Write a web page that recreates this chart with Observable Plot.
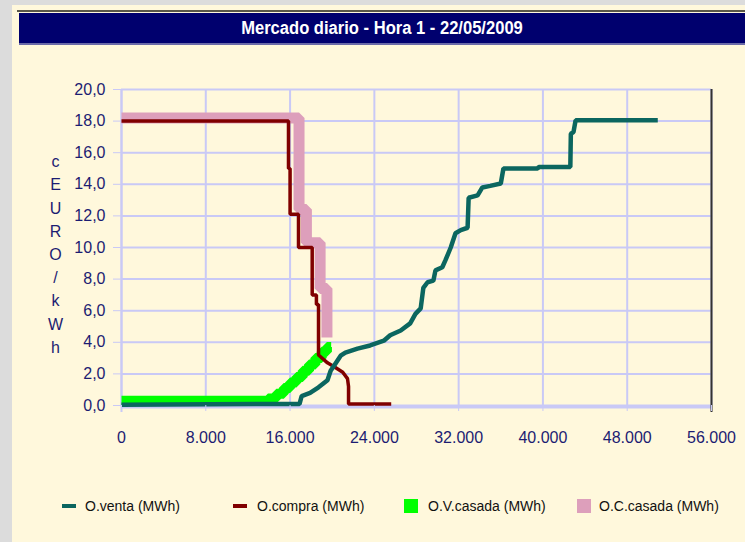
<!DOCTYPE html>
<html><head><meta charset="utf-8">
<script src="https://cdn.jsdelivr.net/npm/d3@7"></script>
<script src="https://cdn.jsdelivr.net/npm/@observablehq/plot@0.6"></script>
<style>
html,body{margin:0;padding:0;}
body{width:745px;height:542px;background:#dcdcdc;position:relative;overflow:hidden;font-family:"Liberation Sans",Arial,sans-serif;}
#panel{position:absolute;left:12px;top:5px;right:0;bottom:0;background:#fff8dc;}
#topline{position:absolute;left:17px;top:10px;right:0;height:2px;background:#5a5848;}
#title{position:absolute;left:19px;top:13px;right:0;height:30px;background:#00006e;border-bottom:2px solid #6a6aa8;}
#title span{position:absolute;left:0;right:0;top:0;text-align:center;color:#fff;font:bold 18px "Liberation Sans",Arial,sans-serif;line-height:31px;transform:scaleX(0.92);transform-origin:center;}
#chart{position:absolute;left:0;top:50px;}
#legend{position:absolute;top:497px;left:0;width:745px;height:18px;}
.sw{position:absolute;}
.lb{position:absolute;top:0;font:14px "Liberation Sans",Arial,sans-serif;color:#111;white-space:nowrap;line-height:18px;}
</style>
</head><body>
<div id="panel"></div>
<div id="topline"></div>
<div id="title"><span id="titletext"></span></div>
<div id="chart"></div>
<div id="legend"></div>
<script>
const titleText = "Mercado diario - Hora 1 - 22/05/2009";
const yTitle = "cEURO/kWh";
const xTicks = [0, 8000, 16000, 24000, 32000, 40000, 48000, 56000];
const yTicks = [0, 2, 4, 6, 8, 10, 12, 14, 16, 18, 20];

const seriesNames = ["O.venta (MWh)", "O.compra (MWh)", "O.V.casada (MWh)", "O.C.casada (MWh)"];
const seriesColors = ["#0b665f", "#800000", "#00ff00", "#dd9fbb"];

// O.venta (sell curve)
const venta = [[0,0.05],[16900,0.1],[17100,0.6],[17900,0.8],[18700,1.15],[19550,1.6],[19850,2.2],[20300,2.65],[20800,3.15],[21250,3.35],[22400,3.6],[23600,3.8],[24900,4.1],[25500,4.45],[26500,4.75],[27400,5.2],[27900,5.8],[28400,6.15],[28650,7.45],[29050,7.8],[29600,7.9],[29800,8.55],[30450,8.75],[30750,9.2],[31250,10.0],[31700,10.9],[32200,11.1],[32850,11.25],[32950,13.15],[33800,13.3],[34250,13.8],[35000,13.9],[36000,14.05],[36250,15.0],[39500,15.0],[39600,15.1],[42600,15.1],[42650,17.2],[42900,17.3],[43100,18.05],[50900,18.05]];
// O.compra (buy curve)
const compra = [[0,18.0],[15850,18.0],[15850,15.0],[16000,15.0],[16000,12.1],[16800,12.1],[16800,10.0],[18100,10.0],[18100,7.0],[18500,7.0],[18500,6.4],[18700,6.4],[18700,3.2],[19550,2.7],[20300,2.4],[21000,2.1],[21450,1.7],[21550,1.2],[21550,0.1],[25600,0.1]];
// O.V.casada (matched sell) - step-after points
const vCasada = [[0,0.3],[13900,0.45],[14700,0.75],[15400,1.1],[16000,1.45],[16600,1.8],[17200,2.2],[17800,2.6],[18400,3.0],[19000,3.4],[19500,3.7],[19900,3.7]];
// O.C.casada (matched buy) - step-after points
const cCasada = [[0,18.2],[16850,12.4],[17550,10.3],[18850,7.4],[19500,4.3]];

document.getElementById("titletext").textContent = titleText;

const loc = d3.formatLocale({decimal: ",", thousands: ".", grouping: [3], currency: ["", ""]});
const fx = loc.format(",.0f");
const fy = loc.format(".1f");
const navy = "#1c1c72";
const lav = "#c9c9f6";

const chart = Plot.plot({
  width: 745,
  height: 410,
  marginLeft: 121,
  marginRight: 34,
  marginTop: 39,
  marginBottom: 55,
  style: {background: "transparent", fontFamily: "'Liberation Sans', Arial, sans-serif", fontSize: "16px", overflow: "visible"},
  x: {domain: [0, 56000]},
  y: {domain: [0, 20]},
  marks: [
    Plot.ruleX(xTicks, {x: d => d, stroke: lav, strokeWidth: 2}),
    Plot.ruleY(yTicks, {y: d => d, stroke: lav, strokeWidth: 2}),
    Plot.ruleY([0], {y: d => d, stroke: lav, strokeWidth: 3, dy: 1.5}),
    Plot.ruleX([0], {x: d => d, stroke: lav, strokeWidth: 2, insetBottom: -7}),
    Plot.ruleX([56000], {x: d => d, stroke: "#333", strokeWidth: 2, y1: 20, y2: 0, insetBottom: -7}),
    Plot.line(cCasada, {x: d => d[0], y: d => d[1], stroke: seriesColors[3], strokeWidth: 11, curve: "step-after", strokeLinecap: "butt", strokeLinejoin: "miter"}),
    Plot.line(vCasada, {x: d => d[0], y: d => d[1], stroke: seriesColors[2], strokeWidth: 10, curve: "step-after", strokeLinecap: "butt", strokeLinejoin: "miter"}),
    Plot.line(compra, {x: d => d[0], y: d => d[1], stroke: seriesColors[1], strokeWidth: 3.5, strokeLinecap: "butt", strokeLinejoin: "miter"}),
    Plot.line(venta, {x: d => d[0], y: d => d[1], stroke: seriesColors[0], strokeWidth: 4.5, strokeLinecap: "butt", strokeLinejoin: "miter"}),
    Plot.axisY({ticks: yTicks, tickFormat: fy, tickSize: 8, tickPadding: 8, stroke: lav, fill: navy, fontSize: 16, label: null}),
    Plot.axisX({ticks: xTicks, tickFormat: fx, tickSize: 6, tickPadding: 20, stroke: lav, fill: navy, fontSize: 16, label: null}),
    Plot.text([yTitle.split("").join("\n")], {frameAnchor: "left", dx: -66, dy: 5, textAnchor: "middle", lineHeight: 1.45, fontSize: 16, fill: navy})
  ]
});
document.getElementById("chart").appendChild(chart);

// legend
const legend = document.getElementById("legend");
const swX = [62, 233, 404, 577];
const lbX = [85, 257, 428, 599];
seriesNames.forEach((name, i) => {
  const sw = document.createElement("div");
  sw.className = "sw";
  sw.style.left = swX[i] + "px";
  sw.style.background = seriesColors[i];
  if (i < 2) { sw.style.top = "7px"; sw.style.width = "14px"; sw.style.height = "4px"; }
  else { sw.style.top = "2px"; sw.style.width = "14px"; sw.style.height = "14px"; }
  legend.appendChild(sw);
  const lb = document.createElement("div");
  lb.className = "lb";
  lb.style.left = lbX[i] + "px";
  lb.textContent = name;
  legend.appendChild(lb);
});
</script>
</body></html>
